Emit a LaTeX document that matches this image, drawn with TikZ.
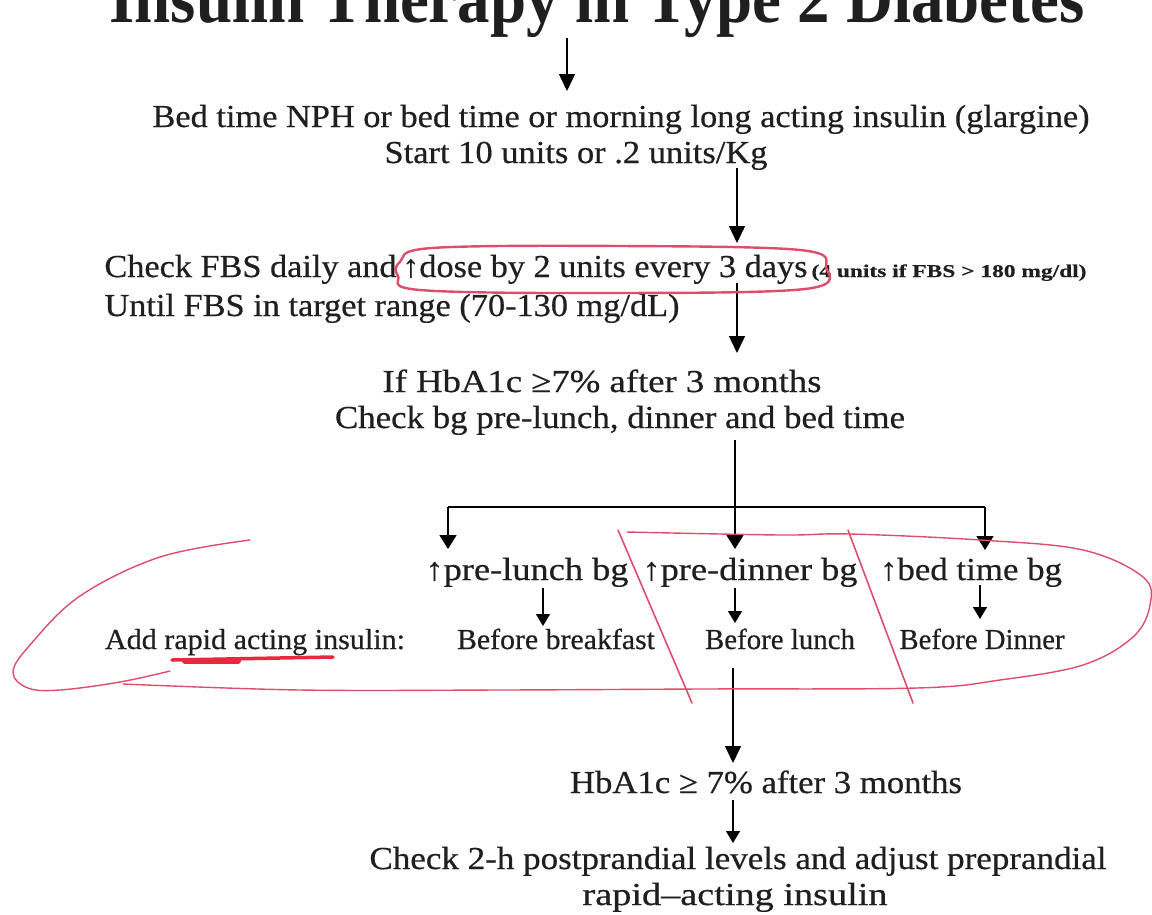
\documentclass[tikz,border=0pt]{standalone}
\usepackage{fontspec}
\usepackage{graphicx}
\setmainfont{Liberation Serif}[FakeBold=0.5]
\newfontfamily\titlefont{Liberation Serif Bold}
\usetikzlibrary{arrows.meta}
\newcommand{\fitw}[2]{\resizebox{#1}{\height}{#2}}
\definecolor{pen}{RGB}{222,78,108}
\definecolor{pendark}{RGB}{232,40,60}
\begin{document}
\begin{tikzpicture}[x=1pt,y=-1pt,
  txt/.style={anchor=base,inner sep=0pt,text=black!88,font=\fontsize{32}{32}\selectfont},
  row/.style={anchor=base,inner sep=0pt,text=black!88,font=\fontsize{29}{29}\selectfont},
  note/.style={anchor=base,inner sep=0pt,text=black!88,font=\fontsize{18}{18}\selectfont\bfseries},
  arr/.style={line width=1.5pt,-{Triangle[width=16pt,length=17pt]}},
  barr/.style={line width=1.5pt,-{Triangle[width=17pt,length=14pt]}},
  sarr/.style={line width=1.3pt,-{Triangle[width=14pt,length=12pt]}},
  ln/.style={line width=1.5pt},
  redpen/.style={draw=pen,line width=1.6pt,line cap=round,line join=round}]
\useasboundingbox (0,0) rectangle (1152,914);
\clip (0,0) rectangle (1152,914);
\fill[white] (0,0) rectangle (1152,914);

% ---- texts ----
\node[anchor=base,inner sep=0pt,text=black!88,font=\fontsize{70}{70}\selectfont\titlefont] (title) at (597,22) {\fitw{975pt}{Insulin Therapy in Type 2 Diabetes}};
\node[txt] (bed) at (621,127) {\fitw{937pt}{Bed time NPH or bed time or morning long acting insulin (glargine)}};
\node[txt] (start) at (576,163) {\fitw{383pt}{Start 10 units or .2 units/Kg}};
\node[txt] (fbs) at (456,277) {\fitw{703pt}{Check FBS daily and\,↑dose by 2 units every 3 days}};
\node[note] (fbsnote) at (949,277) {\fitw{275pt}{(4 units if FBS > 180 mg/dl)}};
\node[txt] (until) at (392,316) {\fitw{575pt}{Until FBS in target range (70-130 mg/dL)}};
\node[txt] (hba) at (602,392) {\fitw{439pt}{If HbA1c ≥7\% after 3 months}};
\node[txt] (chk) at (620,428) {\fitw{570pt}{Check bg pre-lunch, dinner and bed time}};
\node[txt] (pl) at (527,580) {\fitw{203pt}{↑pre-lunch bg}};
\node[txt] (pd) at (750,580) {\fitw{215pt}{↑pre-dinner bg}};
\node[txt] (bt) at (971,580) {\fitw{182pt}{↑bed time bg}};
\node[row] (add) at (255,649) {\fitw{300pt}{Add rapid acting insulin:}};
\node[row] (bb) at (556,649) {\fitw{198pt}{Before breakfast}};
\node[row] (bl) at (780,649) {\fitw{150pt}{Before lunch}};
\node[row] (bd) at (982,649) {\fitw{165pt}{Before Dinner}};
\node[txt] (hba2) at (766,793) {\fitw{392pt}{HbA1c ≥ 7\% after 3 months}};
\node[txt] (pp1) at (738,869) {\fitw{737pt}{Check 2-h postprandial levels and adjust preprandial}};
\node[txt] (pp2) at (735,905) {\fitw{305pt}{rapid–acting insulin}};

% ---- connector end points ----
\coordinate (c1s) at (567,38);  \coordinate (c1e) at (567,91);
\coordinate (c2s) at (737,168); \coordinate (c2e) at (737,243);
\coordinate (c3s) at (737,283); \coordinate (c3e) at (737,353);
\coordinate (c4s) at (735,440); \coordinate (split) at (735,507);
\coordinate (jl) at (448,507);  \coordinate (jr) at (985,507);
\coordinate (e1) at (448,549);  \coordinate (e2) at (735,549);  \coordinate (e3) at (985,550);
\coordinate (s1s) at (543,588); \coordinate (s1e) at (543,626);
\coordinate (s2s) at (735,588); \coordinate (s2e) at (735,623);
\coordinate (s3s) at (980,585); \coordinate (s3e) at (980,619);
\coordinate (c5s) at (733,668); \coordinate (c5e) at (733,763);
\coordinate (c6s) at (733,800); \coordinate (c6e) at (733,843);

\draw[arr] (c1s) -- (c1e);
\draw[arr] (c2s) -- (c2e);
\draw[arr] (c3s) -- (c3e);
\draw[ln] (c4s) -- (split);
\draw[ln] (jl) -- (jr);
\draw[barr] (jl) -- (e1);
\draw[barr] (split) -- (e2);
\draw[barr] (jr) -- (e3);
\draw[sarr] (s1s) -- (s1e);
\draw[sarr] (s2s) -- (s2e);
\draw[sarr] (s3s) -- (s3e);
\draw[arr] (c5s) -- (c5e);
\draw[sarr] (c6s) -- (c6e);

% ---- red pen marks ----
\draw[redpen,line width=2.4pt] plot[smooth cycle,tension=0.6] coordinates
  {(400,262) (432,248) (620,246) (800,250) (826,267) (805,289) (600,293) (420,290) (398,276)};
\draw[pendark,line width=3.5pt,line cap=round] (172,660) -- (333,657);
\draw[pendark,line width=6pt,line cap=round] (185,661) -- (238,661);
\draw[redpen,line width=1.4pt] plot[smooth,tension=0.6] coordinates
  {(250,540) (160,557) (80,596) (30,645) (13,672) (28,688) (60,690) (120,682) (170,671)};
\draw[redpen,line width=1.4pt] plot[smooth,tension=0.6] coordinates
  {(123,684) (300,690) (500,690) (700,689) (917,688) (1000,680) (1083,665) (1133,637) (1150,605) (1143,577) (1083,550) (980,540) (850,534) (780,535) (627,532)};
\draw[redpen,line width=1.6pt] (618,530) -- (692,703);
\draw[redpen,line width=1.6pt] (848,530) -- (913,703);
\end{tikzpicture}
\end{document}
